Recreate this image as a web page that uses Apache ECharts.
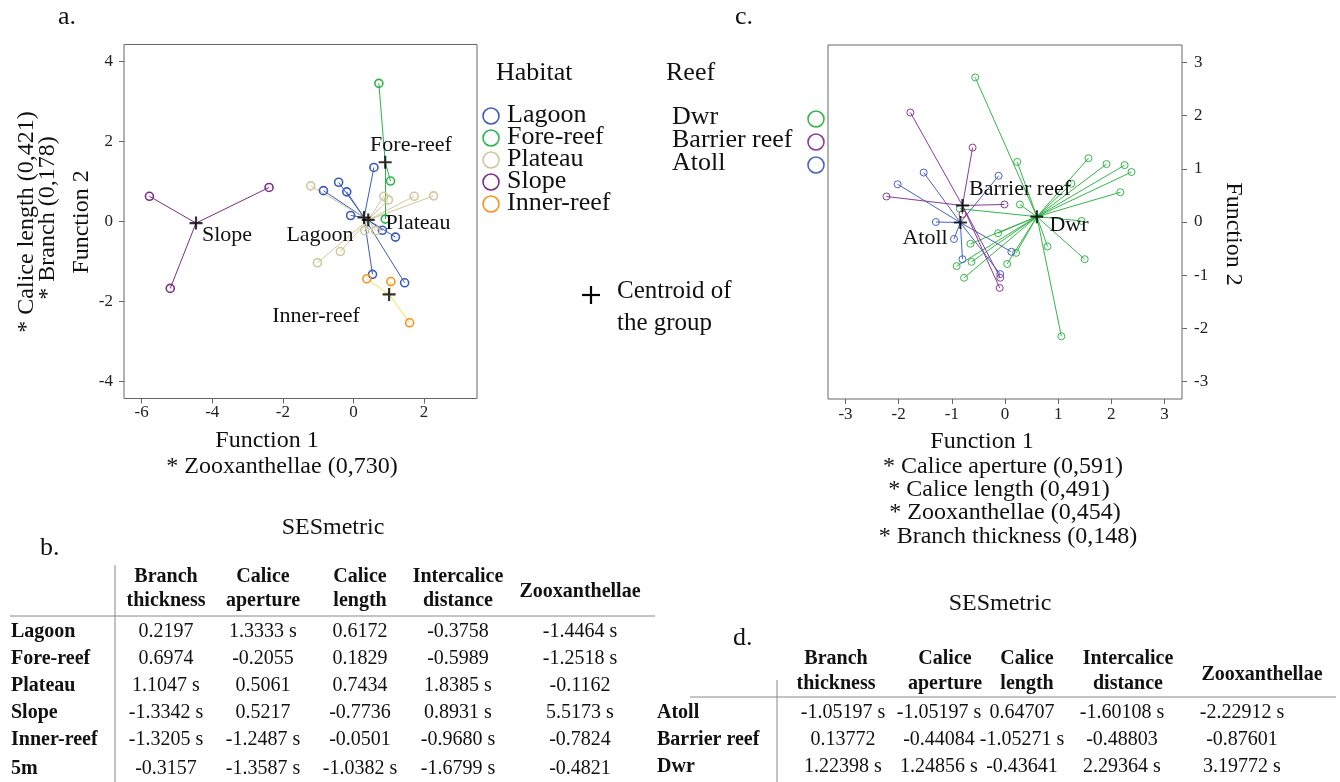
<!DOCTYPE html>
<html><head><meta charset="utf-8">
<script src="https://cdn.jsdelivr.net/npm/echarts@6/dist/echarts.min.js"></script>
<style>html,body{margin:0;padding:0;background:#fff}#c{width:1340px;height:782px}</style>
</head><body><div id="c"></div>
<script>
// ================= DATA =================
// Panel a: discriminant scores by habitat
const habitatNames = ['Lagoon', 'Fore-reef', 'Plateau', 'Slope', 'Inner-reef'];
const lagoonCentroid = [0.30, 0.10];
const lagoonPoints = [[0.58, 1.35], [-0.42, 0.98], [-0.19, 0.74], [-0.85, 0.77], [-0.08, 0.15], [0.82, -0.22], [1.19, -0.39], [0.54, -1.32], [1.45, -1.53]];
const foreReefCentroid = [0.90, 1.48];
const foreReefPoints = [[0.72, 3.45], [1.05, 1.01], [0.90, 0.06]];
const plateauCentroid = [0.42, 0.04];
const plateauPoints = [[-1.21, 0.89], [0.86, 0.63], [0.99, 0.54], [1.72, 0.63], [2.27, 0.64], [0.32, -0.23], [0.63, -0.23], [-0.37, -0.75], [-1.02, -1.03]];
const slopeCentroid = [-4.46, -0.04];
const slopePoints = [[-5.78, 0.63], [-2.39, 0.85], [-5.19, -1.67]];
const innerReefCentroid = [1.01, -1.82];
const innerReefPoints = [[0.38, -1.43], [1.06, -1.50], [1.59, -2.53]];

// Panel c: discriminant scores by reef
const reefNames = ['Dwr', 'Barrier reef', 'Atoll'];
const dwrCentroid = [0.60, 0.10];
const dwrPoints = [[-0.56, 2.72], [0.23, 1.13], [1.57, 1.20], [1.91, 1.09], [2.25, 1.07], [2.38, 0.94], [2.17, 0.56], [1.25, 0.72], [0.28, 0.33], [1.44, 0.02], [-0.85, 0.25], [0.80, -0.46], [1.50, -0.70], [-0.13, -0.21], [-0.65, -0.41], [0.21, -0.58], [-0.63, -0.75], [-0.91, -0.83], [0.04, -0.79], [-0.77, -1.05], [1.06, -2.15]];
const barrierCentroid = [-0.80, 0.31];
const barrierPoints = [[-1.78, 2.06], [-0.61, 1.40], [-2.23, 0.48], [-0.01, 0.33], [-0.09, -1.05], [-0.10, -1.24], [-0.80, 0.15]];
const atollCentroid = [-0.84, -0.01];
const atollPoints = [[-1.53, 0.93], [-2.02, 0.71], [-0.12, 0.87], [-1.30, 0.00], [-0.96, -0.32], [-0.80, -0.70], [0.12, -0.56], [-0.09, -0.98]];

// Tick labels
const ticksAX = [-6, -4, -2, 0, 2];
const ticksAY = [-4, -2, 0, 2, 4];
const ticksC = [-3, -2, -1, 0, 1, 2, 3];

// Axis captions
const axisA_x = ['Function 1', '* Zooxanthellae (0,730)'];
const axisA_y = ['Function 2', '* Branch (0,178)', '* Calice length (0,421)'];
const axisC_x = ['Function 1', '* Calice aperture (0,591)', '* Calice length (0,491)', '* Zooxanthellae (0,454)', '* Branch thickness (0,148)'];
const axisC_y = 'Function 2';

// Tables
const tableColumns = [['Branch', 'thickness'], ['Calice', 'aperture'], ['Calice', 'length'], ['Intercalice', 'distance'], ['Zooxanthellae']];
const tableBRows = ['Lagoon', 'Fore-reef', 'Plateau', 'Slope', 'Inner-reef', '5m'];
const tableBValues = [
  ['0.2197', '1.3333 s', '0.6172', '-0.3758', '-1.4464 s'],
  ['0.6974', '-0.2055', '0.1829', '-0.5989', '-1.2518 s'],
  ['1.1047 s', '0.5061', '0.7434', '1.8385 s', '-0.1162'],
  ['-1.3342 s', '0.5217', '-0.7736', '0.8931 s', '5.5173 s'],
  ['-1.3205 s', '-1.2487 s', '-0.0501', '-0.9680 s', '-0.7824'],
  ['-0.3157', '-1.3587 s', '-1.0382 s', '-1.6799 s', '-0.4821']
];
const tableDRows = ['Atoll', 'Barrier reef', 'Dwr'];
const tableDValues = [
  ['-1.05197 s', '-1.05197 s', '0.64707', '-1.60108 s', '-2.22912 s'],
  ['0.13772', '-0.44084', '-1.05271 s', '-0.48803', '-0.87601'],
  ['1.22398 s', '1.24856 s', '-0.43641', '2.29364 s', '3.19772 s']
];

// ================= STYLE / LAYOUT =================
const FF = '"Liberation Serif", "DejaVu Serif", serif';
const INK = '#111';
const habitatColors = { 'Lagoon': '#3d5cb9', 'Fore-reef': '#2db34a', 'Plateau': '#cfc89c', 'Slope': '#7a2e87', 'Inner-reef': '#f7931e' };
const habitatLineColors = { 'Lagoon': '#3d5cb9', 'Fore-reef': '#2db34a', 'Plateau': '#cfc89c', 'Slope': '#7a2e87', 'Inner-reef': '#f2e24e' };
const reefColors = { 'Dwr': '#36b54a', 'Barrier reef': '#8a3a95', 'Atoll': '#4a62c2' };
const PLUS = 'path://M5,0H7V5H12V7H7V12H5V7H0V5H5Z';

const groupsA = [
  ['Lagoon', lagoonCentroid, lagoonPoints],
  ['Plateau', plateauCentroid, plateauPoints],
  ['Fore-reef', foreReefCentroid, foreReefPoints],
  ['Slope', slopeCentroid, slopePoints],
  ['Inner-reef', innerReefCentroid, innerReefPoints]
];
const groupsC = [
  ['Dwr', dwrCentroid, dwrPoints],
  ['Atoll', atollCentroid, atollPoints],
  ['Barrier reef', barrierCentroid, barrierPoints]
];

const series = [];
function addGroup(idx, name, centroid, pts, color, lineColor, size, bw) {
  series.push({
    type: 'lines', coordinateSystem: 'cartesian2d', xAxisIndex: idx, yAxisIndex: idx, silent: true, z: 2,
    lineStyle: { color: lineColor, width: 1, opacity: 1, curveness: 0 },
    data: pts.map(p => ({ coords: [centroid, p] }))
  });
  series.push({
    type: 'scatter', name: name, xAxisIndex: idx, yAxisIndex: idx, symbol: 'circle', symbolSize: size, z: 3, silent: true,
    itemStyle: { color: 'rgba(0,0,0,0)', borderColor: color, borderWidth: bw, opacity: 1 },
    data: pts
  });
}
groupsA.forEach(g => addGroup(0, g[0], g[1], g[2], habitatColors[g[0]], habitatLineColors[g[0]], 8, 1.6));
groupsC.forEach(g => addGroup(1, g[0], g[1], g[2], reefColors[g[0]], reefColors[g[0]], 7, 1));
series.push({ type: 'scatter', xAxisIndex: 0, yAxisIndex: 0, symbol: PLUS, symbolSize: 13, z: 6, silent: true,
  itemStyle: { color: '#000' }, data: groupsA.map(g => g[1]) });
series.push({ type: 'scatter', xAxisIndex: 1, yAxisIndex: 1, symbol: PLUS, symbolSize: 13, z: 6, silent: true,
  itemStyle: { color: '#000' }, data: groupsC.map(g => g[1]) });

function T(x, y, text, size, o) {
  o = o || {};
  const al = o.align || 'left';
  return { type: 'text', x: x, y: y, rotation: o.rot || 0, z: 100, silent: true,
    style: { text: text, fontFamily: FF, fontSize: size, fontWeight: o.bold ? 'bold' : 'normal', fill: o.color || INK,
      align: al, textAlign: al, verticalAlign: 'middle', textVerticalAlign: 'middle' } };
}
function L(x1, y1, x2, y2, c, w) {
  return { type: 'line', z: 100, silent: true, shape: { x1: x1, y1: y1, x2: x2, y2: y2 }, style: { stroke: c || '#777', lineWidth: w || 1 } };
}
function C(cx, cy, r, c) {
  return { type: 'circle', z: 100, silent: true, shape: { cx: cx, cy: cy, r: r }, style: { fill: 'rgba(0,0,0,0)', stroke: c, lineWidth: 1.6 } };
}

const g = [];
// panel letters
g.push(T(58, 17, 'a.', 26));
g.push(T(735, 17, 'c.', 26));

// plot labels (panel a)
g.push(T(411, 145, 'Fore-reef', 22, { align: 'center' }));
g.push(T(418, 223, 'Plateau', 22, { align: 'center' }));
g.push(T(227, 235, 'Slope', 22, { align: 'center' }));
g.push(T(320, 235, 'Lagoon', 22, { align: 'center' }));
g.push(T(316, 316, 'Inner-reef', 22, { align: 'center' }));
// plot labels (panel c)
g.push(T(1020, 189, 'Barrier reef', 22, { align: 'center' }));
g.push(T(925, 238, 'Atoll', 22, { align: 'center' }));
g.push(T(1069, 225, 'Dwr', 22, { align: 'center' }));

// axis captions panel a
g.push(T(267, 441, axisA_x[0], 24, { align: 'center' }));
g.push(T(282, 467, axisA_x[1], 24, { align: 'center' }));
g.push(T(82, 222, axisA_y[0], 24, { align: 'center', rot: Math.PI / 2 }));
g.push(T(48, 218, axisA_y[1], 24, { align: 'center', rot: Math.PI / 2 }));
g.push(T(27, 222, axisA_y[2], 24, { align: 'center', rot: Math.PI / 2 }));
// axis captions panel c
const cxC = [982, 1003, 999, 1005, 1008];
const cyC = [442, 467, 490, 513, 537];
axisC_x.forEach((t, i) => g.push(T(cxC[i], cyC[i], t, 24, { align: 'center' })));
g.push(T(1233, 234, axisC_y, 24, { align: 'center', rot: -Math.PI / 2 }));

// legend panel a
g.push(T(496, 73, 'Habitat', 26));
habitatNames.forEach((n, i) => {
  const y = 116 + i * 22;
  g.push(C(491, y, 8, habitatColors[n]));
  g.push(T(507, y - 1, n, 26));
});
// legend panel c
g.push(T(666, 73, 'Reef', 26));
reefNames.forEach((n, i) => {
  const y = 118 + i * 23;
  g.push(T(672, y - 1, n, 26));
  g.push(C(816, y + 1, 8, reefColors[n]));
});
// centroid note
g.push(L(582, 295, 600, 295, '#000', 2.2));
g.push(L(591, 286, 591, 304, '#000', 2.2));
g.push(T(617, 291, 'Centroid of', 25));
g.push(T(617, 323, 'the group', 25));

// table b
g.push(T(333, 528, 'SESmetric', 24, { align: 'center' }));
g.push(T(40, 548, 'b.', 26));
const colB = [166, 263, 360, 458, 580];
tableColumns.forEach((c, i) => {
  if (c.length === 2) { g.push(T(colB[i], 577, c[0], 20, { align: 'center', bold: true })); g.push(T(colB[i], 601, c[1], 20, { align: 'center', bold: true })); }
  else g.push(T(colB[i], 592, c[0], 20, { align: 'center', bold: true }));
});
const rowB = [632, 659, 686, 713, 740, 769];
tableBRows.forEach((r, i) => {
  g.push(T(11, rowB[i], r, 20, { bold: true }));
  tableBValues[i].forEach((v, j) => g.push(T(colB[j], rowB[i], v, 20, { align: 'center' })));
});
g.push(L(10, 616, 655, 616, '#888', 1));
g.push(L(115, 565, 115, 782, '#888', 1));

// table d
g.push(T(1000, 604, 'SESmetric', 24, { align: 'center' }));
g.push(T(733, 638, 'd.', 26));
const colDh = [836, 945, 1027, 1128, 1262];
const colD = [843, 939, 1022, 1122, 1242];
tableColumns.forEach((c, i) => {
  if (c.length === 2) { g.push(T(colDh[i], 659, c[0], 20, { align: 'center', bold: true })); g.push(T(colDh[i], 684, c[1], 20, { align: 'center', bold: true })); }
  else g.push(T(colDh[i], 675, c[0], 20, { align: 'center', bold: true }));
});
const rowD = [713, 740, 767];
tableDRows.forEach((r, i) => {
  g.push(T(657, rowD[i], r, 20, { bold: true }));
  tableDValues[i].forEach((v, j) => g.push(T(colD[j], rowD[i], v, 20, { align: 'center' })));
});
g.push(L(690, 697, 1336, 697, '#888', 1));
g.push(L(777, 680, 777, 782, '#888', 1));

const tickLbl = { fontFamily: FF, fontSize: 17, color: '#222' };
const noLine = { show: false, onZero: false };
const option = {
  backgroundColor: '#fff',
  animation: false,
  grid: [
    { left: 124, top: 44.5, width: 353, height: 354, show: true, borderColor: '#666', borderWidth: 1, backgroundColor: 'transparent' },
    { left: 828, top: 45, width: 354, height: 354, show: true, borderColor: '#666', borderWidth: 1, backgroundColor: 'transparent' }
  ],
  xAxis: [
    { gridIndex: 0, type: 'value', min: -6.5, max: 3.5, position: 'bottom', axisLine: noLine, splitLine: { show: false },
      axisTick: { show: true, length: 5, customValues: ticksAX, lineStyle: { color: '#666' } },
      axisLabel: Object.assign({ customValues: ticksAX, margin: 6 }, tickLbl) },
    { gridIndex: 1, type: 'value', min: -3.33, max: 3.33, position: 'bottom', axisLine: noLine, splitLine: { show: false },
      axisTick: { show: true, length: 5, customValues: ticksC, lineStyle: { color: '#666' } },
      axisLabel: Object.assign({ customValues: ticksC, margin: 7 }, tickLbl) }
  ],
  yAxis: [
    { gridIndex: 0, type: 'value', min: -4.42, max: 4.42, position: 'left', axisLine: noLine, splitLine: { show: false },
      axisTick: { show: true, length: 5, customValues: ticksAY, lineStyle: { color: '#666' } },
      axisLabel: Object.assign({ customValues: ticksAY, margin: 11 }, tickLbl) },
    { gridIndex: 1, type: 'value', position: 'right', min: -3.33, max: 3.33, axisLine: noLine, splitLine: { show: false },
      axisTick: { show: true, length: 5, customValues: ticksC, lineStyle: { color: '#666' } },
      axisLabel: Object.assign({ customValues: ticksC, margin: 12 }, tickLbl) }
  ],
  series: series,
  graphic: { elements: g }
};
const chart = echarts.init(document.getElementById('c'), null, { renderer: 'canvas' });
chart.setOption(option);
</script>
</body></html>
